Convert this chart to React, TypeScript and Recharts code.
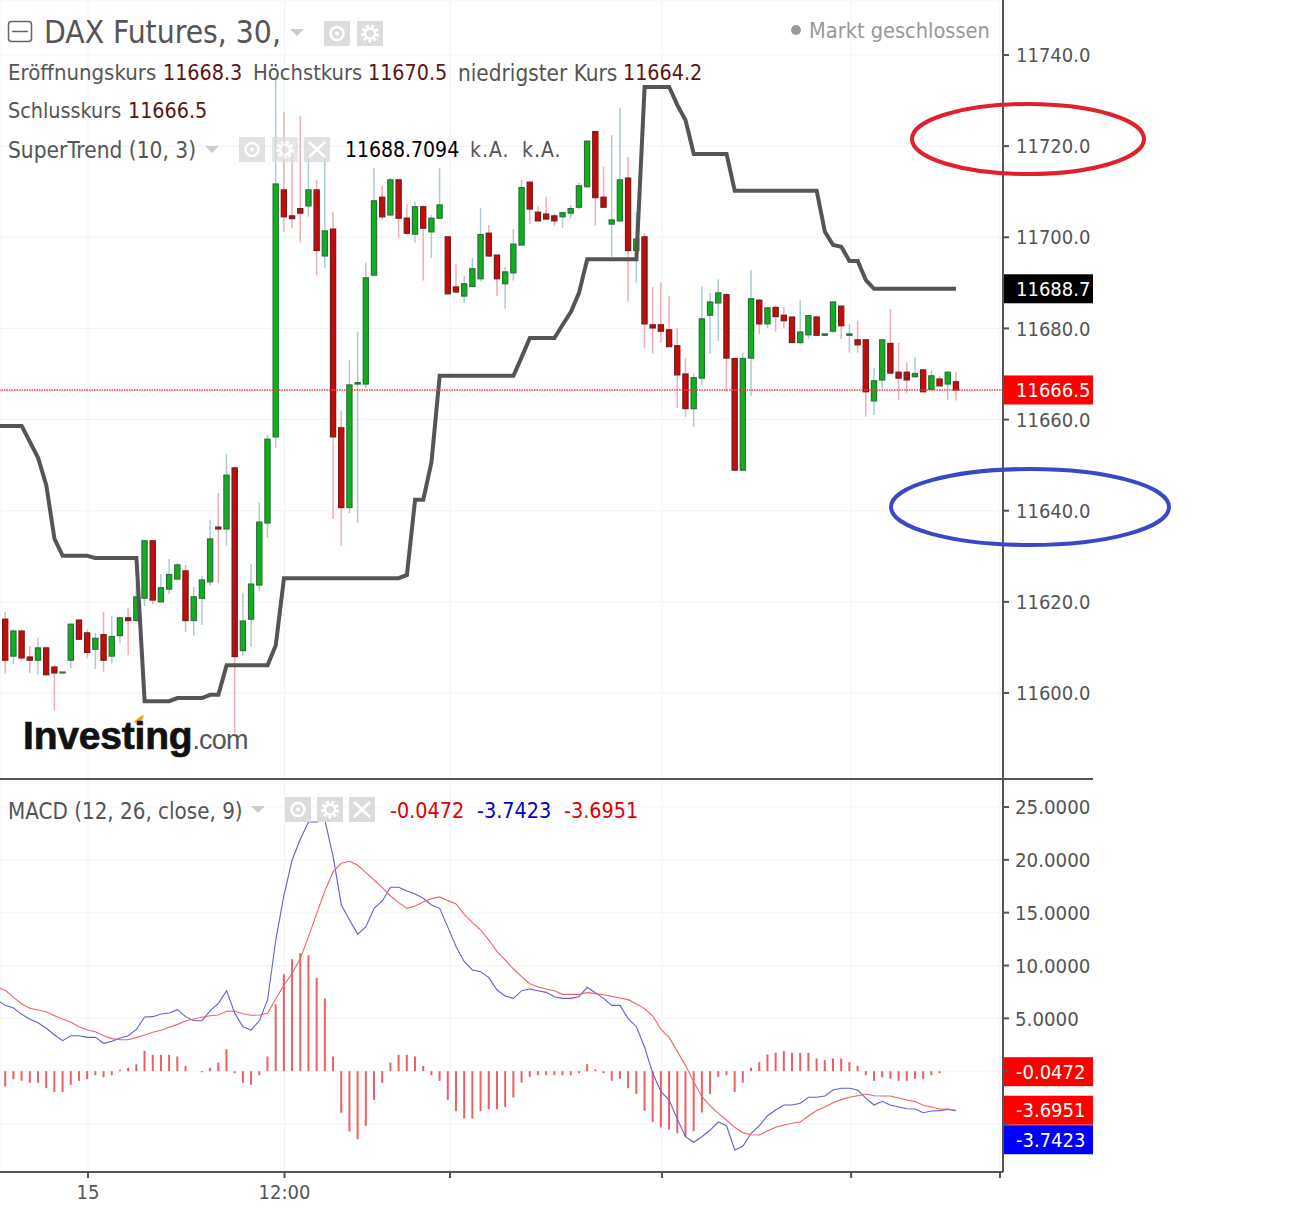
import React from 'react';
import { ComposedChart, Bar, Line, XAxis, YAxis, CartesianGrid, ReferenceLine } from 'recharts';

// candles, index 0..116
const opens = [11616.2,11608.1,11613.6,11607.9,11607.2,11609.9,11605.7,11604.4,11607.2,11616.0,11613.2,11609.6,11612.8,11608.1,11612.6,11616.5,11615.9,11620.8,11633.4,11620.0,11622.8,11625.0,11626.8,11615.9,11620.8,11624.4,11636.4,11636.0,11649.4,11609.3,11616.2,11623.7,11637.3,11656.2,11710.4,11704.7,11706.3,11706.9,11710.4,11695.9,11701.8,11658.2,11640.7,11667.8,11667.8,11691.7,11708.8,11704.9,11712.6,11704.2,11700.7,11706.7,11701.2,11704.2,11700.1,11689.1,11687.1,11689.2,11690.9,11700.9,11696.1,11689.8,11692.2,11698.3,11712.1,11705.5,11705.1,11704.7,11704.5,11705.3,11706.6,11711.1,11723.2,11708.8,11702.9,11703.6,11713.0,11697.1,11700.1,11680.8,11680.8,11679.7,11676.2,11670.0,11662.4,11669.1,11682.9,11685.6,11687.4,11673.4,11648.9,11673.5,11686.2,11681.0,11684.6,11682.9,11682.5,11676.9,11678.6,11682.5,11678.5,11679.4,11684.9,11678.5,11677.5,11677.5,11664.1,11668.7,11676.7,11670.4,11670.4,11669.4,11670.9,11666.6,11668.9,11667.8,11668.3];
const highs = [11617.8,11614.0,11614.0,11610.3,11612.1,11610.2,11606.1,11604.6,11615.2,11616.2,11614.0,11613.2,11617.8,11616.9,11616.7,11618.7,11624.1,11633.4,11633.4,11626.1,11629.4,11628.5,11628.1,11623.3,11625.7,11638.0,11643.9,11652.4,11649.7,11622.0,11628.3,11641.8,11656.6,11735.0,11727.5,11718.1,11726.6,11718.5,11712.6,11718.6,11705.6,11662.0,11673.1,11679.3,11694.4,11715.2,11711.3,11713.0,11712.6,11707.3,11707.8,11707.1,11704.9,11715.2,11700.1,11694.1,11691.5,11695.5,11706.4,11702.7,11696.1,11693.5,11701.8,11712.6,11712.2,11706.9,11708.9,11705.3,11705.6,11707.1,11711.9,11721.1,11723.2,11715.5,11722.4,11728.4,11717.6,11705.6,11700.9,11689.1,11690.0,11687.1,11680.1,11673.5,11670.2,11689.2,11687.8,11690.8,11687.8,11673.4,11674.7,11692.8,11686.5,11684.7,11685.1,11684.7,11682.6,11686.2,11682.9,11682.8,11678.8,11685.9,11685.0,11681.0,11681.7,11677.5,11671.4,11677.5,11684.3,11676.8,11672.5,11673.8,11671.1,11670.9,11669.6,11670.5,11670.5];
const lows = [11604.3,11606.4,11607.2,11604.4,11604.0,11604.0,11596.1,11604.4,11605.5,11611.6,11607.6,11605.3,11604.7,11606.4,11610.9,11608.3,11615.9,11619.1,11619.5,11620.0,11621.7,11625.0,11613.4,11612.6,11614.9,11623.5,11624.1,11632.3,11591.2,11608.0,11610.1,11622.4,11634.0,11653.8,11701.2,11702.0,11698.8,11704.5,11691.7,11693.3,11638.2,11632.3,11639.5,11637.3,11666.9,11691.7,11704.0,11704.7,11699.9,11700.7,11698.8,11690.5,11695.5,11704.0,11687.6,11687.8,11685.6,11689.2,11690.3,11695.7,11687.1,11684.3,11690.5,11698.3,11702.9,11703.6,11704.0,11702.5,11702.0,11704.0,11706.2,11711.0,11702.5,11706.5,11695.7,11703.4,11685.9,11690.0,11675.7,11674.4,11676.8,11675.9,11662.5,11660.6,11658.4,11667.6,11674.4,11677.2,11666.1,11648.9,11648.9,11665.2,11678.8,11680.1,11679.3,11680.1,11676.8,11676.4,11677.7,11678.3,11678.5,11679.0,11677.7,11674.7,11674.7,11660.6,11661.0,11666.9,11670.2,11664.3,11665.8,11669.4,11666.1,11666.5,11667.4,11664.3,11664.2];
const closes = [11607.2,11613.6,11607.7,11607.2,11609.9,11604.0,11604.4,11604.6,11615.1,11611.8,11608.9,11612.0,11607.2,11612.4,11616.5,11615.9,11621.1,11633.4,11620.4,11623.1,11626.0,11628.1,11615.9,11621.1,11624.8,11633.8,11636.0,11647.8,11608.0,11615.8,11623.9,11637.5,11655.7,11711.7,11704.5,11704.1,11705.3,11710.4,11697.1,11701.4,11656.2,11640.7,11667.6,11668.1,11691.1,11708.0,11704.5,11712.6,11704.2,11700.9,11706.7,11702.0,11704.2,11707.1,11687.6,11688.0,11689.8,11693.1,11700.6,11695.9,11690.9,11692.4,11698.5,11710.9,11706.2,11703.6,11704.0,11703.6,11705.4,11706.3,11711.3,11721.1,11708.7,11706.6,11703.8,11712.6,11697.1,11699.6,11681.0,11680.1,11679.4,11676.0,11669.8,11662.4,11669.2,11682.1,11685.8,11687.8,11673.5,11648.9,11673.4,11686.5,11681.0,11684.5,11682.6,11681.7,11676.9,11679.2,11682.8,11678.5,11678.8,11685.8,11680.6,11678.8,11676.4,11666.1,11668.5,11677.5,11670.2,11669.1,11668.7,11670.1,11666.1,11669.6,11667.4,11670.4,11666.5];

// lines start one bar earlier (index -1), off the left edge
const superTrend = [11658.6,11658.6,11658.6,11658.6,11655.1,11651.6,11645.6,11633.8,11630.1,11630.1,11630.1,11630.1,11629.6,11629.6,11629.6,11629.6,11629.6,11629.6,11598.2,11598.2,11598.2,11598.2,11598.9,11598.9,11598.9,11598.9,11599.6,11599.6,11606.1,11606.1,11606.1,11606.1,11606.1,11606.1,11610.5,11625.2,11625.2,11625.2,11625.2,11625.2,11625.2,11625.2,11625.2,11625.2,11625.2,11625.2,11625.2,11625.2,11625.2,11625.2,11625.9,11642.4,11642.4,11650.7,11669.6,11669.6,11669.6,11669.6,11669.6,11669.6,11669.6,11669.6,11669.6,11669.6,11673.7,11677.9,11677.9,11677.9,11677.9,11680.8,11683.6,11687.8,11695.2,11695.2,11695.2,11695.2,11695.2,11695.2,11695.2,11733.0,11733.0,11733.0,11733.0,11729.0,11725.7,11718.3,11718.3,11718.3,11718.3,11718.3,11710.2,11710.2,11710.2,11710.2,11710.2,11710.2,11710.2,11710.2,11710.2,11710.2,11710.2,11701.2,11698.3,11697.9,11694.8,11694.8,11690.6,11688.7,11688.7,11688.7,11688.7,11688.7,11688.7,11688.7,11688.7,11688.7,11688.7,11688.7];
const macdLine = [6.74,6.23,5.98,5.38,4.91,4.59,4.06,3.43,2.89,3.36,3.36,3.20,3.20,2.64,2.83,3.14,3.36,3.96,5.13,5.16,5.41,5.51,5.82,5.16,4.78,4.78,5.73,6.42,7.62,5.48,4.21,3.90,4.78,6.74,12.41,16.67,19.99,21.97,23.58,23.58,23.74,20.3,15.73,14.31,12.95,13.68,15.41,16.11,17.40,17.40,17.05,16.77,16.36,15.73,15.41,13.61,11.78,10.36,9.58,9.42,8.85,7.68,7.11,6.89,7.62,7.78,7.62,7.46,7.05,6.89,6.89,7.05,7.94,7.43,6.89,6.23,6.23,4.97,4.21,2.26,-0.20,-1.94,-2.73,-4.56,-6.20,-6.73,-6.20,-5.57,-4.81,-5.16,-7.46,-7.08,-5.88,-5.16,-4.21,-3.67,-3.20,-3.20,-3.04,-2.47,-2.47,-2.35,-1.78,-1.62,-1.62,-1.78,-2.57,-3.20,-2.85,-3.23,-3.39,-3.55,-3.58,-3.93,-3.77,-3.73,-3.61,-3.74];
const signalLine = [7.94,7.65,6.99,6.36,5.95,5.79,5.63,5.25,4.94,4.62,4.21,3.90,3.74,3.36,3.08,2.98,2.98,3.20,3.43,3.68,3.87,4.15,4.43,4.75,4.94,5.10,5.25,5.32,5.67,5.70,5.44,5.29,5.32,5.48,6.86,8.13,9.26,10.68,12.73,14.94,17.08,18.88,19.67,19.86,19.48,18.79,18.09,17.37,16.58,15.95,15.41,15.63,16.01,16.33,16.49,16.14,15.82,14.85,14.06,13.36,12.41,11.31,10.52,9.67,8.94,8.28,7.97,7.78,7.62,7.27,7.27,7.27,7.43,7.34,7.24,7.08,6.93,6.77,6.36,5.92,5.22,3.96,3.20,1.85,0.55,-1.02,-2.41,-3.29,-3.99,-4.62,-5.31,-5.82,-6.01,-6.04,-5.66,-5.31,-5.09,-4.93,-4.81,-4.24,-3.73,-3.39,-2.98,-2.69,-2.47,-2.32,-2.16,-2.32,-2.35,-2.35,-2.54,-2.73,-2.88,-3.23,-3.39,-3.58,-3.58,-3.70];
const histogram = [-1.45,-0.76,-0.91,-1.10,-1.10,-1.61,-1.96,-1.96,-1.29,-0.91,-0.76,-0.38,-0.57,-0.38,0.13,0.32,0.66,1.92,1.55,1.55,1.55,1.39,0.50,0,-0.10,0.32,0.82,2.08,-0.19,-1.10,-1.29,-0.38,1.39,6.34,9.18,10.6,11.17,10.98,8.83,6.88,1.39,-3.94,-5.71,-6.44,-5.17,-2.71,-1.10,0.82,1.55,1.55,1.39,0.50,-0.38,-0.91,-2.71,-3.79,-4.48,-4.48,-3.79,-3.60,-3.60,-3.38,-2.49,-1.07,-0.54,-0.38,-0.38,-0.38,-0.38,-0.38,-0.19,0.66,0.16,-0.19,-0.91,-0.73,-1.61,-2.15,-3.75,-4.79,-5.33,-5.52,-5.87,-6.21,-5.68,-3.91,-2.15,-0.54,-0.38,-1.96,-1.07,0.32,0.85,1.58,1.74,1.92,1.74,1.74,1.74,1.20,1.04,1.20,1.20,0.85,0.50,-0.38,-0.91,-0.57,-0.73,-0.91,-0.91,-0.73,-0.73,-0.38,-0.19,0,0];

const priceTicks = [11600, 11620, 11640, 11660, 11680, 11700, 11720, 11740];
const macdTicks = [-5, 0, 5, 10, 15, 20, 25];
const timeTicks = [10.09, 34.07, 54.26, 80.13, 103.2, 121.36];
const timeLabels = ['15', '12:00', '', '', '', ''];

const rows = superTrend.map((st, n) => {
  const i = n - 1;
  return {
    i,
    st,
    macd: macdLine[n],
    signal: signalLine[n],
    hist: i >= 0 ? histogram[i] : undefined,
    open: i >= 0 ? opens[i] : undefined,
    high: i >= 0 ? highs[i] : undefined,
    low: i >= 0 ? lows[i] : undefined,
    close: i >= 0 ? closes[i] : undefined,
    range: i >= 0 ? [lows[i], highs[i]] : undefined,
  };
});

const FONT = '"DejaVu Sans Condensed", "DejaVu Sans", sans-serif';
const AXIS = '#555';
const GRID = '#f2f3f6';
const VALUE = '#5c1414';
const tickStyle = { fontFamily: FONT, fontSize: 20, fill: '#555' };

const Candle = (props: any) => {
  const { x, y, width, height, payload } = props;
  if (payload.open == null || !isFinite(y)) return <g />;
  const cx = x + width / 2;
  const perUnit = height / (payload.high - payload.low);
  const top = y + (payload.high - Math.max(payload.open, payload.close)) * perUnit;
  const bottom = y + (payload.high - Math.min(payload.open, payload.close)) * perUnit;
  const up = payload.close >= payload.open;
  return (
    <g>
      <line x1={cx} x2={cx} y1={y} y2={y + height} stroke={up ? '#a9ccd6' : '#f0aeb4'} strokeWidth={1.5} />
      <rect
        x={cx - 2.6}
        y={top}
        width={5.2}
        height={Math.max(bottom - top, 0.5)}
        fill={up ? '#0fb01f' : '#c80a0a'}
        stroke={up ? '#2c6f38' : '#6d1f1f'}
        strokeWidth={1.2}
      />
    </g>
  );
};

const PriceTag = ({ viewBox, text, bg, h = 29, dy = 0, size = 20 }: any) => {
  const left = viewBox.x + viewBox.width;
  const mid = viewBox.y + dy;
  return (
    <g>
      <rect x={left} y={mid - h / 2} width={90} height={h} fill={bg} />
      <text x={left + 13} y={mid + 7} fontFamily={FONT} fontSize={size} fill="#fff">
        {text}
      </text>
    </g>
  );
};

const Txt = ({ x, y, size = 21.3, color = '#555', spacing = 0, children }: any) => (
  <div
    style={{
      position: 'absolute',
      left: x,
      top: y,
      transform: 'translateY(-50%)',
      fontFamily: FONT,
      fontSize: size,
      letterSpacing: spacing,
      color,
      whiteSpace: 'nowrap',
      lineHeight: 1,
    }}
  >
    {children}
  </div>
);

const Caret = ({ x, y }: any) => <path d={`M${x} ${y}h14l-7 7z`} fill="#ccc" />;

const Eye = ({ x, y, o = 1 }: any) => (
  <g opacity={o}>
    <rect x={x} y={y} width={26} height={25} fill="#dcdcdc" />
    <circle cx={x + 13} cy={y + 12.5} r={6.5} fill="none" stroke="#fff" strokeWidth={2.5} />
    <circle cx={x + 13} cy={y + 12.5} r={2} fill="#fff" />
  </g>
);
const Gear = ({ x, y, o = 1 }: any) => (
  <g opacity={o}>
    <rect x={x} y={y} width={26} height={25} fill="#dcdcdc" />
    <circle cx={x + 13} cy={y + 12.5} r={7.5} fill="none" stroke="#fff" strokeWidth={3} strokeDasharray="3 2.2" />
    <circle cx={x + 13} cy={y + 12.5} r={5} fill="none" stroke="#fff" strokeWidth={2.5} />
  </g>
);
const Cross = ({ x, y, o = 1 }: any) => (
  <g opacity={o}>
    <rect x={x} y={y} width={26} height={25} fill="#dcdcdc" />
    <path d={`M${x + 5} ${y + 5}l16 15M${x + 21} ${y + 5}l-16 15`} stroke="#fff" strokeWidth={2.5} />
  </g>
);

export default function App() {
  return (
    <div style={{ position: 'absolute', left: 0, top: 0, width: 1304, height: 1208, overflow: 'hidden', background: '#fff' }}>
      <div style={{ position: 'absolute', left: 0, top: 0 }}>
        <ComposedChart width={1093} height={779} data={rows} margin={{ top: 0, right: 0, bottom: 0, left: 0 }}>
          <CartesianGrid stroke={GRID} />
          <XAxis
            dataKey="i"
            type="number"
            domain={[-0.647, 121.73]}
            ticks={timeTicks}
            allowDataOverflow
            hide
          />
          <YAxis
            orientation="right"
            width={90}
            domain={[11581.13, 11752.07]}
            ticks={priceTicks}
            allowDataOverflow
            interval={0}
            tick={tickStyle}
            tickSize={6}
            tickMargin={7}
            tickFormatter={(v: number) => v.toFixed(1)}
            stroke={AXIS}
            strokeWidth={2}
          />
          <Bar dataKey="range" barSize={6} shape={<Candle />} isAnimationActive={false} />
          <Line dataKey="st" type="linear" stroke="#555" strokeWidth={4} dot={false} isAnimationActive={false} />
          <ReferenceLine
            y={11688.7}
            stroke="none"
            label={(p: any) => <PriceTag {...p} text="11688.7" bg="#000" />}
          />
          <ReferenceLine
            y={11666.5}
            stroke="#ff3a3a"
            strokeWidth={1.5}
            strokeDasharray="1.5 1"
            label={(p: any) => <PriceTag {...p} text="11666.5" bg="#f00" />}
          />
        </ComposedChart>
      </div>

      <div style={{ position: 'absolute', left: 0, top: 779 }}>
        <ComposedChart width={1093} height={429} data={rows} margin={{ top: 0, right: 0, bottom: 0, left: 0 }}>
          <CartesianGrid stroke={GRID} />
          <XAxis
            dataKey="i"
            type="number"
            domain={[-0.647, 121.73]}
            ticks={timeTicks}
            allowDataOverflow
            interval={0}
            height={36}
            tick={tickStyle}
            tickSize={6}
            tickMargin={7}
            tickFormatter={(v: number) => timeLabels[timeTicks.indexOf(v)]}
            stroke={AXIS}
            strokeWidth={2}
          />
          <YAxis
            orientation="right"
            width={90}
            domain={[-9.54, 27.65]}
            ticks={macdTicks}
            allowDataOverflow
            interval={0}
            tick={{ ...tickStyle, fontSize: 20.3 }}
            tickSize={6}
            tickMargin={6}
            tickFormatter={(v: number) => (v > 0 ? v.toFixed(4) : '')}
            stroke={AXIS}
            strokeWidth={2}
          />
          <Bar dataKey="hist" barSize={2} fill="#ee5f62" isAnimationActive={false} />
          <Line dataKey="macd" type="linear" stroke="#6060d4" strokeWidth={1.1} dot={false} isAnimationActive={false} />
          <Line dataKey="signal" type="linear" stroke="#ee6464" strokeWidth={1.1} dot={false} isAnimationActive={false} />
          <ReferenceLine y={-0.0472} stroke="none" label={(p: any) => <PriceTag {...p} text="-0.0472" bg="#f00" />} />
          <ReferenceLine y={-3.6951} stroke="none" label={(p: any) => <PriceTag {...p} text="-3.6951" bg="#f00" />} />
          <ReferenceLine y={-3.7423} stroke="none" label={(p: any) => <PriceTag {...p} text="-3.7423" bg="#00f" dy={29} />} />
        </ComposedChart>
      </div>

      {/* panel divider, header controls and the hand drawn rings */}
      <svg width={1304} height={1208} style={{ position: 'absolute', left: 0, top: 0, pointerEvents: 'none' }}>
        <line x1={0} x2={1093} y1={779} y2={779} stroke={AXIS} strokeWidth={2} />
        <rect x={8.5} y={21.5} width={23} height={20} rx={3} fill="#fff" stroke="#666" strokeWidth={1.5} />
        <line x1={12} x2={28} y1={31.5} y2={31.5} stroke="#666" strokeWidth={1.5} />
        <Caret x={290} y={29} />
        <Eye x={324} y={21} />
        <Gear x={357} y={21} />
        <Caret x={205} y={146} />
        <Eye x={239} y={137} o={0.85} />
        <Gear x={272} y={137} o={0.7} />
        <Cross x={304} y={137} o={0.85} />
        <Caret x={251} y={806} />
        <Eye x={285} y={797} />
        <Gear x={317} y={797} />
        <Cross x={349} y={797} />
        <circle cx={796} cy={30} r={5} fill="#999" />
        <ellipse cx={1028} cy={139} rx={116} ry={35} fill="none" stroke="#e0202c" strokeWidth={4} />
        <ellipse cx={1030} cy={507} rx={139} ry={38} fill="none" stroke="#3a48c8" strokeWidth={4} />
        <path d="M134 722q6-6 10-7q-1 6-7 9z" fill="#f0a020" />
      </svg>

      <Txt x={44} y={33} size={31.5}>DAX Futures, 30,</Txt>
      <Txt x={809} y={31} size={21.6} color="#999">Markt geschlossen</Txt>
      <Txt x={8} y={73} size={22}>Eröffnungskurs</Txt>
      <Txt x={163} y={73} color={VALUE}>11668.3</Txt>
      <Txt x={253} y={73} size={21.8}>Höchstkurs</Txt>
      <Txt x={368} y={73} color={VALUE}>11670.5</Txt>
      <Txt x={458} y={73} size={22.4}>niedrigster Kurs</Txt>
      <Txt x={623} y={73} color={VALUE}>11664.2</Txt>
      <Txt x={8} y={111} size={21.4}>Schlusskurs</Txt>
      <Txt x={128} y={111} color={VALUE}>11666.5</Txt>
      <Txt x={8} y={150} size={22.5}>SuperTrend (10, 3)</Txt>
      <Txt x={345} y={150} size={21} color="#000">11688.7094</Txt>
      <Txt x={470} y={150} size={21} spacing={1}>k.A.</Txt>
      <Txt x={522} y={150} size={21} spacing={1}>k.A.</Txt>
      <Txt x={8} y={811} size={22.2}>MACD (12, 26, close, 9)</Txt>
      <Txt x={390} y={811} size={21.4} color="#e00000">-0.0472</Txt>
      <Txt x={477} y={811} size={21.4} color="#0000d0">-3.7423</Txt>
      <Txt x={564} y={811} size={21.4} color="#e00000">-3.6951</Txt>

      <div
        style={{
          position: 'absolute',
          left: 23,
          top: 713,
          fontFamily: '"Liberation Sans", sans-serif',
          fontWeight: 700,
          fontSize: 39,
          letterSpacing: -0.2,
          color: '#111',
          WebkitTextStroke: '0.7px #111',
          whiteSpace: 'nowrap',
          lineHeight: '46px',
        }}
      >
        Investing
        <span style={{ fontWeight: 400, fontSize: 27, letterSpacing: -0.8, color: '#555', WebkitTextStroke: '0px' }}>.com</span>
      </div>
    </div>
  );
}
